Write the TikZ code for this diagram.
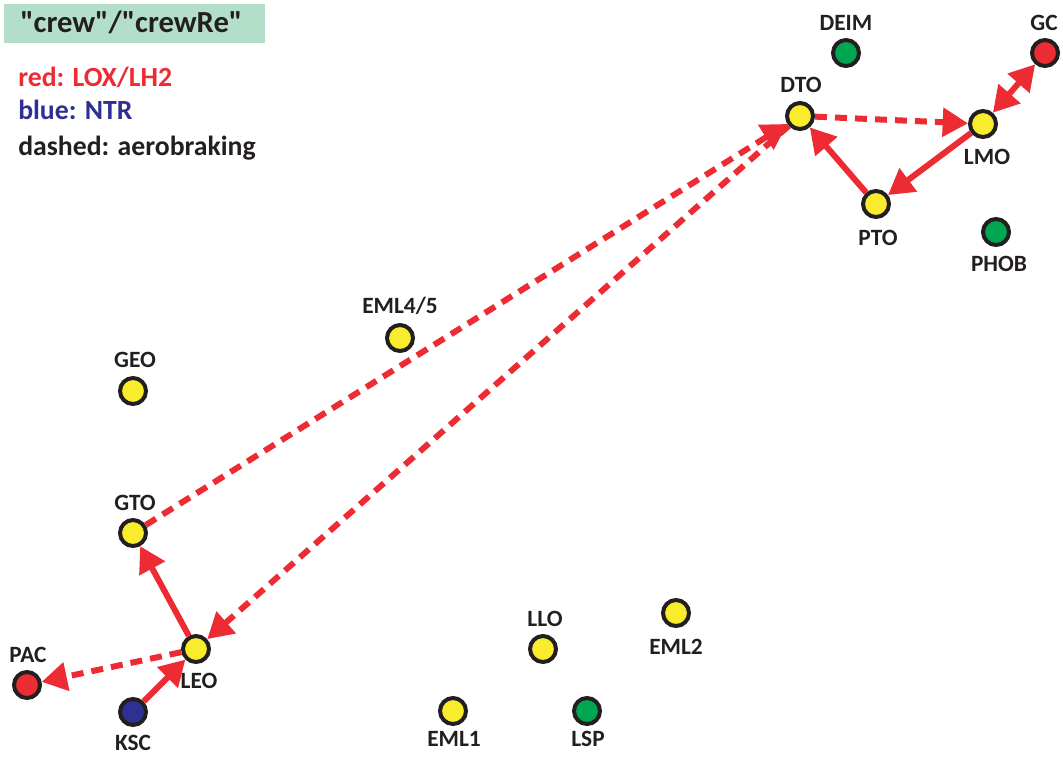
\documentclass[tikz,border=0pt]{standalone}
\usepackage{fontspec}
\setmainfont{Carlito}[Ligatures=TeXOff]
\usetikzlibrary{arrows.meta}
\definecolor{cred}{HTML}{ED2B33}
\definecolor{cyel}{HTML}{F8EC2C}
\definecolor{cgrn}{HTML}{00A651}
\definecolor{cblu}{HTML}{2E3192}
\definecolor{cdark}{HTML}{231F20}
\definecolor{cbox}{HTML}{B3DECA}
\begin{document}
\begin{tikzpicture}[x=0.75pt,y=-0.75pt,
  stn/.style={circle, draw=cdark, line width=3pt, minimum size=19.5pt, inner sep=0pt},
  ylw/.style={stn, fill=cyel},
  grn/.style={stn, fill=cgrn},
  rdn/.style={stn, fill=cred},
  blu/.style={stn, fill=cblu},
  lbl/.style={font=\fontsize{17.5}{20}\selectfont\bfseries, text=cdark, inner sep=0pt, anchor=base},
  leg/.style={font=\fontsize{20.8}{24}\selectfont\bfseries, inner sep=0pt, anchor=base west},
  tipa/.tip={Triangle[length=19pt, width=21pt]},
  sol/.style={draw=cred, line width=4.5pt, -tipa},
  solb/.style={draw=cred, line width=4.5pt, tipa-tipa},
  dsh/.style={draw=cred, line width=4.5pt, dash pattern=on 9pt off 6pt, -tipa}
]
\useasboundingbox (0,0) rectangle (1063,757);

% legend
\node[fill=cbox, minimum width=195.75pt, minimum height=29.25pt, inner sep=0pt, anchor=north west] (box) at (4,4) {};
\node[font=\fontsize{23}{27}\selectfont\bfseries, text=cdark, inner sep=0pt, anchor=base west] (title) at (20,32) {"crew"/"crewRe"};
\node[leg, text=cred] (lg1) at (18,86) {red: LOX/LH2};
\node[leg, text=cblu] (lg2) at (18,119) {blue: NTR};
\node[leg, text=cdark] (lg3) at (18,155) {dashed: aerobraking};

% stations
\node[grn] (DEIM) at (846,53) {};
\node[rdn] (GC) at (1045,53) {};
\node[ylw] (DTO) at (800,116) {};
\node[ylw] (LMO) at (983,124) {};
\node[ylw] (PTO) at (876,204) {};
\node[grn] (PHOB) at (996,232) {};
\node[ylw] (EML45) at (400,338) {};
\node[ylw] (GEO) at (133,391) {};
\node[ylw] (GTO) at (133,533) {};
\node[ylw] (LEO) at (196,649) {};
\node[rdn] (PAC) at (27,685) {};
\node[blu] (KSC) at (133,712) {};
\node[ylw] (LLO) at (543,649) {};
\node[ylw] (EML2) at (676,613) {};
\node[ylw] (EML1) at (453,711) {};
\node[grn] (LSP) at (587,711) {};

% labels
\node[lbl] (DEIMl) at (846,30) {DEIM};
\node[lbl] (GCl) at (1044,30) {GC};
\node[lbl] (DTOl) at (801,92) {DTO};
\node[lbl] (LMOl) at (987,164) {LMO};
\node[lbl] (PTOl) at (878,245) {PTO};
\node[lbl] (PHOBl) at (999,271) {PHOB};
\node[lbl] (EML45l) at (400,313) {EML4/5};
\node[lbl] (GEOl) at (135,367) {GEO};
\node[lbl] (GTOl) at (135,510) {GTO};
\node[lbl] (LEOl) at (199,688) {LEO};
\node[lbl] (PACl) at (28,662) {PAC};
\node[lbl] (KSCl) at (133,750) {KSC};
\node[lbl] (LLOl) at (545,626) {LLO};
\node[lbl] (EML2l) at (676,654) {EML2};
\node[lbl] (EML1l) at (454,746) {EML1};
\node[lbl] (LSPl) at (588,746) {LSP};

% connectors
\draw[dsh] (DTO) -- (LMO);
\draw[sol] (LMO) -- (PTO);
\draw[sol] (PTO) -- (DTO);
\draw[solb] (LMO) -- (GC);
\draw[dsh] (GTO) -- (DTO);
\draw[dsh] (DTO) -- (LEO);
\draw[sol] (LEO) -- (GTO);
\draw[dsh] (LEO) -- (PAC);
\draw[sol] (KSC) -- (LEO);
\end{tikzpicture}
\end{document}
